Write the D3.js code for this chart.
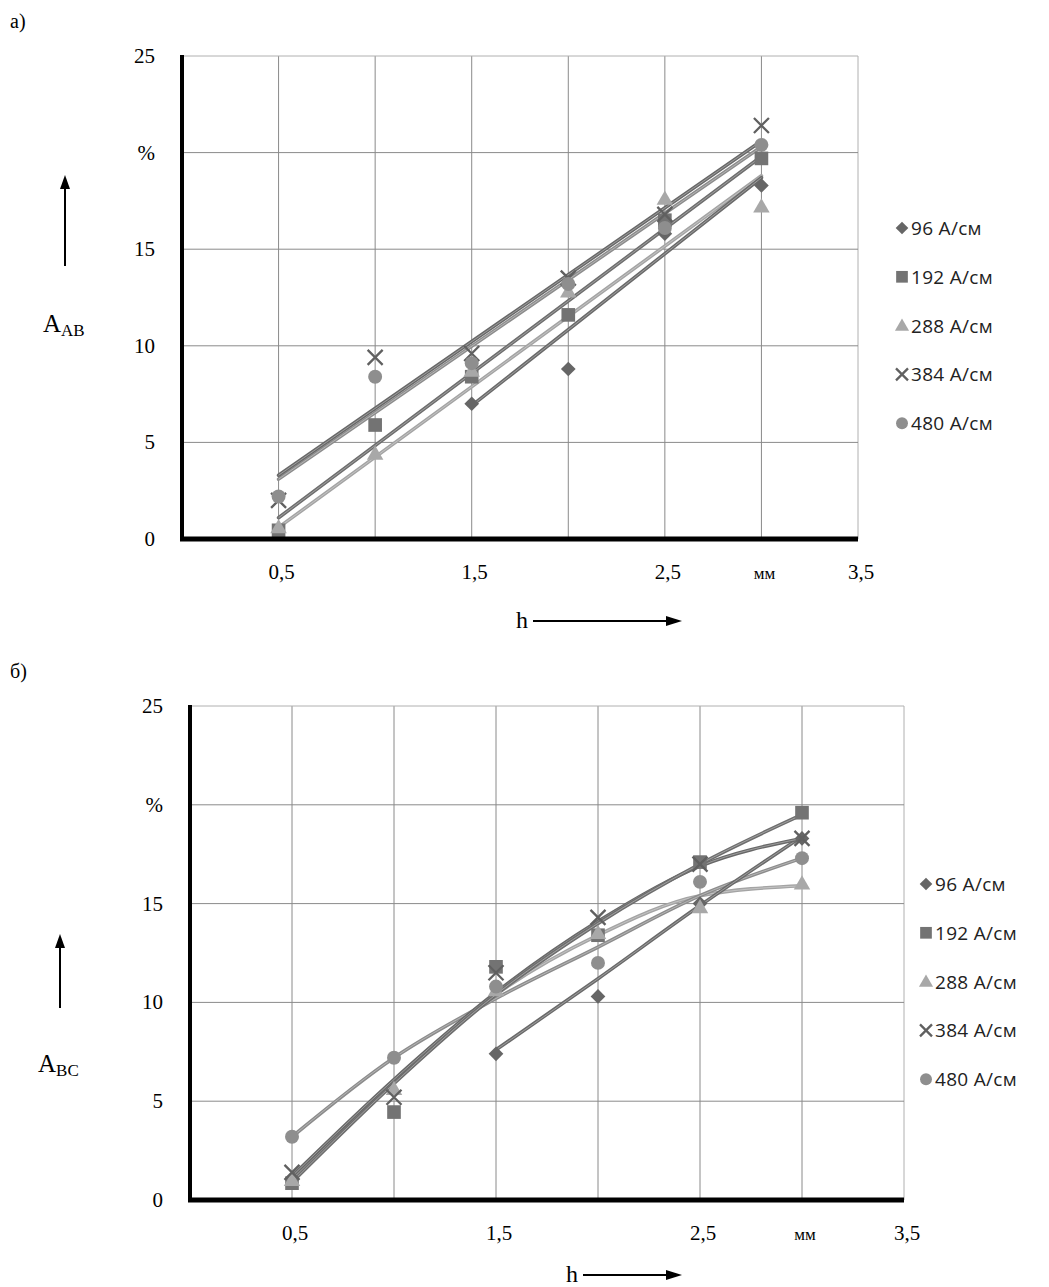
<!DOCTYPE html>
<html>
<head>
<meta charset="utf-8">
<script src="https://cdn.jsdelivr.net/npm/d3@7"></script>
<style>
  body { margin: 0; background: #fff; }
  svg { display: block; }
</style>
</head>
<body>
<script>
// thickness h, mm
var hValues = [0.5, 1.0, 1.5, 2.0, 2.5, 3.0];
var seriesNames = ["96 A/см", "192 A/см", "288 A/см", "384 A/см", "480 A/см"];
var xTickValues = [0.5, 1.5, 2.5, 3.0, 3.5];
var xTickLabels = ["0,5", "1,5", "2,5", "мм", "3,5"];
var yTickValues = [0, 5, 10, 15, 20, 25];
var yTickLabels = ["0", "5", "10", "15", "%", "25"];

// a) A_AB, measured points
var abPoints96 = [null, null, 7.0, 8.8, 15.8, 18.3];
var abPoints192 = [0.45, 5.9, 8.4, 11.6, 16.5, 19.7];
var abPoints288 = [0.6, 4.4, 8.7, 12.8, 17.6, 17.2];
var abPoints384 = [2.0, 9.4, 9.6, 13.5, 16.8, 21.4];
var abPoints480 = [2.2, 8.4, 9.1, 13.2, 16.1, 20.4];
// a) linear trend lines: start h, value at start, value at h = 3.0
var abTrendX0 = [1.5, 0.5, 0.5, 0.5, 0.5];
var abTrendY0 = [6.9, 1.1, 0.6, 3.3, 3.1];
var abTrendY1 = [18.7, 19.8, 18.8, 20.6, 20.3];

// б) A_BC, measured points
var bcPoints96 = [null, null, 7.4, 10.3, 15.0, 18.3];
var bcPoints192 = [0.85, 4.45, 11.8, 13.4, 17.1, 19.6];
var bcPoints288 = [1.0, 5.6, 10.6, 13.5, 14.8, 16.0];
var bcPoints384 = [1.4, 5.2, 11.5, 14.3, 17.0, 18.3];
var bcPoints480 = [3.2, 7.2, 10.8, 12.0, 16.1, 17.3];
// б) smoothed curves
var bcCurve96 = [null, null, 7.6, 11.2, 14.9, 18.4];
var bcCurve192 = [0.9, 5.9, 10.4, 14.0, 17.0, 19.5];
var bcCurve288 = [1.0, 6.0, 10.4, 13.4, 15.4, 15.9];
var bcCurve384 = [1.2, 6.1, 10.5, 14.1, 16.9, 18.3];
var bcCurve480 = [3.2, 7.2, 10.2, 12.8, 15.4, 17.3];

var lineColors = ["#6a6a6a", "#6e6e6e", "#a4a4a4", "#686868", "#8c8c8c"];
var markColors = ["#666666", "#737373", "#a8a8a8", "#606060", "#8e8e8e"];
var markTypes = ["diamond", "square", "triangle", "cross", "circle"];

var svg = d3.select("body").append("svg")
  .attr("width", 1049).attr("height", 1287);

function marker(g, type, x, y, s, color) {
  var h = s / 2;
  if (type == "cross") {
    g.append("path")
      .attr("d", "M" + (x - h) + "," + (y - h) + "L" + (x + h) + "," + (y + h) +
                 "M" + (x - h) + "," + (y + h) + "L" + (x + h) + "," + (y - h))
      .attr("stroke", color).attr("stroke-width", 2.3).attr("fill", "none");
    return;
  }
  if (type == "diamond") {
    var r = h * 1.05;
    g.append("path")
      .attr("d", "M" + x + "," + (y - r) + "L" + (x + r) + "," + y + "L" + x + "," + (y + r) +
                 "L" + (x - r) + "," + y + "Z")
      .attr("fill", color);
    return;
  }
  var sym = {square: d3.symbolSquare, triangle: d3.symbolTriangle, circle: d3.symbolCircle}[type];
  var area = {square: s * s * 0.95, triangle: s * s * 0.6, circle: s * s * 0.78}[type];
  g.append("path")
    .attr("d", d3.symbol().type(sym).size(area)())
    .attr("transform", "translate(" + x + "," + (type == "triangle" ? y + 1 : y) + ")")
    .attr("fill", color);
}

function doubleLine(g, d, color) {
  g.append("path").attr("d", d).attr("fill", "none")
    .attr("stroke", color).attr("stroke-width", 3.6).attr("stroke-linecap", "round");
  g.append("path").attr("d", d).attr("fill", "none")
    .attr("stroke", "#ffffff").attr("stroke-opacity", 0.35).attr("stroke-width", 1);
}

function drawChart(opt) {
  var g = svg.append("g");
  var x = d3.scaleLinear().domain([0, 3.5]).range([opt.left, opt.right]);
  var y = d3.scaleLinear().domain([0, 25]).range([opt.bottom, opt.top]);

  // grid
  g.append("g").selectAll("line").data(hValues.concat([3.5])).enter().append("line")
    .attr("x1", function(d) { return x(d); }).attr("x2", function(d) { return x(d); })
    .attr("y1", y(0)).attr("y2", y(25))
    .attr("stroke", function(d) { return d == 3.5 ? "#b0b0b0" : "#8a8a8a"; }).attr("stroke-width", 1);
  g.append("g").selectAll("line").data(yTickValues.slice(1)).enter().append("line")
    .attr("x1", x(0)).attr("x2", x(3.5))
    .attr("y1", function(d) { return y(d); }).attr("y2", function(d) { return y(d); })
    .attr("stroke", function(d) { return d == 25 ? "#b0b0b0" : "#8a8a8a"; }).attr("stroke-width", 1);

  // series lines
  var lg = g.append("g");
  opt.lines(lg, x, y);

  // markers
  var mg = g.append("g");
  opt.points.forEach(function(vals, i) {
    vals.forEach(function(v, j) {
      if (v === null) return;
      marker(mg, markTypes[i], x(hValues[j]), y(v), markTypes[i] == "cross" ? 15 : 14, markColors[i]);
    });
  });

  // thick axes
  g.append("line").attr("x1", x(0)).attr("x2", x(0)).attr("y1", y(25) - 1).attr("y2", y(0) + 2)
    .attr("stroke", "#000").attr("stroke-width", 4);
  g.append("line").attr("x1", x(0) - 2).attr("x2", x(3.5)).attr("y1", y(0)).attr("y2", y(0))
    .attr("stroke", "#000").attr("stroke-width", 5);

  // tick labels
  g.append("g").selectAll("text").data(yTickValues).enter().append("text")
    .attr("x", opt.left - 27).attr("y", function(d) { return y(d) + 7; })
    .attr("text-anchor", "end")
    .attr("font-family", "Liberation Serif, serif").attr("font-size", 21)
    .text(function(d, i) { return yTickLabels[i]; });
  g.append("g").selectAll("text").data(xTickValues).enter().append("text")
    .attr("x", function(d) { return x(d) + 3; }).attr("y", y(0) + 40)
    .attr("text-anchor", "middle")
    .attr("font-family", "Liberation Serif, serif")
    .attr("font-size", function(d, i) { return xTickLabels[i] == "мм" ? 17 : 21; })
    .text(function(d, i) { return xTickLabels[i]; });

  // legend
  var leg = g.append("g");
  seriesNames.forEach(function(name, i) {
    var ly = opt.legendY + i * 48.8;
    marker(leg, markTypes[i], opt.legendX, ly, 12, markColors[i]);
    leg.append("text").attr("x", opt.legendX + 9).attr("y", ly + 7)
      .attr("font-family", "Open Sans, Noto Sans, sans-serif").attr("font-size", 19)
      .attr("letter-spacing", 0.3)
      .attr("fill", "#222").text(name);
  });

  // panel letter
  g.append("text").attr("x", 10).attr("y", opt.top - 28)
    .attr("font-family", "Liberation Serif, serif").attr("font-size", 20).text(opt.letter);

  // y axis label with arrow
  var ay = g.append("g");
  ay.append("line").attr("x1", opt.arrowX).attr("x2", opt.arrowX)
    .attr("y1", opt.arrowY0).attr("y2", opt.arrowY1 + 8)
    .attr("stroke", "#000").attr("stroke-width", 2);
  ay.append("path").attr("d", "M" + (opt.arrowX - 5) + "," + (opt.arrowY1 + 14) +
      "L" + opt.arrowX + "," + opt.arrowY1 + "L" + (opt.arrowX + 5) + "," + (opt.arrowY1 + 14) + "Z")
    .attr("fill", "#000");
  var t = ay.append("text").attr("x", opt.arrowX - 22).attr("y", opt.labelY)
    .attr("font-family", "Liberation Serif, serif").attr("font-size", 25);
  t.append("tspan").text("A");
  t.append("tspan").attr("font-size", 17).attr("dy", 4).text(opt.sub);

  // x axis label with arrow
  var ax = g.append("g");
  ax.append("text").attr("x", opt.hX).attr("y", opt.hY)
    .attr("font-family", "Liberation Serif, serif").attr("font-size", 24).text("h");
  ax.append("line").attr("x1", opt.hX + 17).attr("x2", opt.hArrowEnd - 10)
    .attr("y1", opt.hY - 7).attr("y2", opt.hY - 7).attr("stroke", "#000").attr("stroke-width", 2);
  ax.append("path").attr("d", "M" + (opt.hArrowEnd - 16) + "," + (opt.hY - 12) +
      "L" + opt.hArrowEnd + "," + (opt.hY - 7) + "L" + (opt.hArrowEnd - 16) + "," + (opt.hY - 2) + "Z")
    .attr("fill", "#000");
}

var abPoints = [abPoints96, abPoints192, abPoints288, abPoints384, abPoints480];
var bcPoints = [bcPoints96, bcPoints192, bcPoints288, bcPoints384, bcPoints480];
var bcCurves = [bcCurve96, bcCurve192, bcCurve288, bcCurve384, bcCurve480];

drawChart({
  letter: "а)", sub: "AB",
  left: 182, right: 858, top: 56, bottom: 539,
  legendX: 902, legendY: 228,
  arrowX: 65, arrowY0: 266, arrowY1: 175, labelY: 332,
  hX: 516, hY: 628, hArrowEnd: 682,
  points: abPoints,
  lines: function(g, x, y) {
    var order = [2, 1, 0, 4, 3];
    order.forEach(function(i) {
      var d = d3.line()([[x(abTrendX0[i]), y(abTrendY0[i])], [x(3.0), y(abTrendY1[i])]]);
      doubleLine(g, d, lineColors[i]);
    });
  }
});

drawChart({
  letter: "б)", sub: "BC",
  left: 190, right: 904, top: 706, bottom: 1200,
  legendX: 926, legendY: 884,
  arrowX: 60, arrowY0: 1008, arrowY1: 934, labelY: 1072,
  hX: 566, hY: 1282, hArrowEnd: 682,
  points: bcPoints,
  lines: function(g, x, y) {
    var line = d3.line()
      .defined(function(d) { return d[1] !== null; })
      .x(function(d) { return x(d[0]); }).y(function(d) { return y(d[1]); })
      .curve(d3.curveMonotoneX);
    [2, 4, 0, 3, 1].forEach(function(i) {
      var pts = hValues.map(function(h, j) { return [h, bcCurves[i][j]]; });
      doubleLine(g, line(pts), lineColors[i]);
    });
  }
});
</script>
</body>
</html>
